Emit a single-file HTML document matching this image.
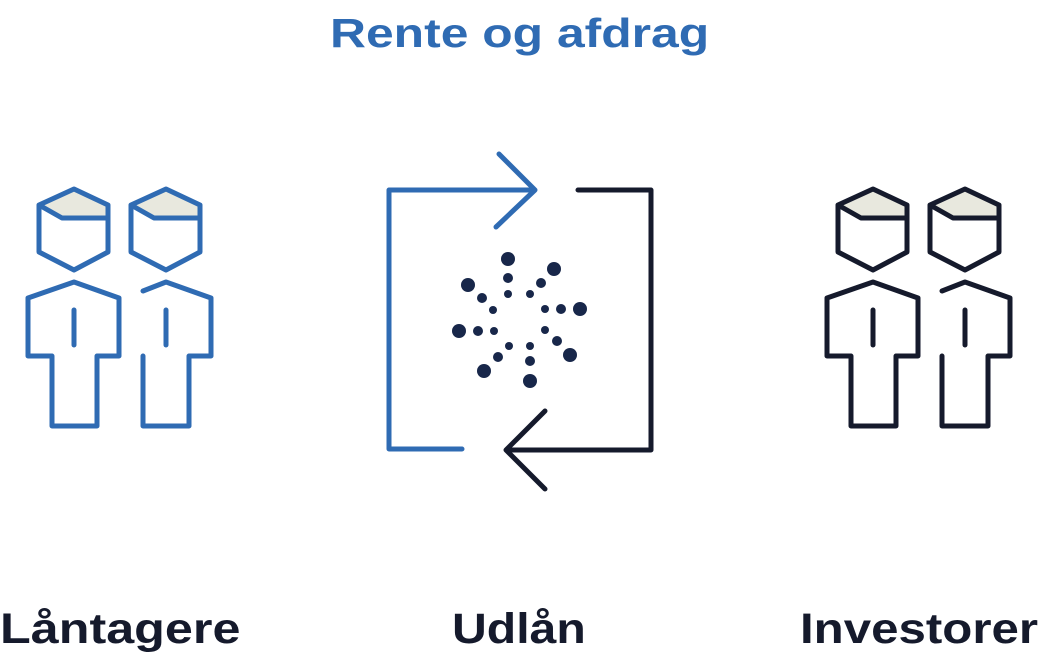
<!DOCTYPE html>
<html><head><meta charset="utf-8"><style>
html,body{margin:0;padding:0;background:#fff;}
body{width:1039px;height:662px;position:relative;overflow:hidden;font-family:"Liberation Sans",sans-serif;}
.t{position:absolute;font-weight:bold;white-space:nowrap;transform-origin:0 0;}
</style></head><body>
<svg width="1039" height="662" style="position:absolute;left:0;top:0">
<defs>
<g id="pp" fill="none" stroke-width="5" stroke-linejoin="round" stroke-linecap="round">
 <path d="M39,205 L74,189 L108,205 L108,218 L62,218 Z" fill="#e8e8de" stroke="none"/>
 <path d="M74,189 L108,205 L108,252 L74,270 L39,252 L39,205 Z M39,205 L62,218 L108,218"/>
 <path d="M74,282 L119,298 L119,356 L97,356 L97,426 L52,426 L52,356 L28,356 L28,298 Z"/>
 <path d="M74,310 L74,345"/>
 <g transform="translate(92,0)">
 <path d="M39,205 L74,189 L108,205 L108,218 L62,218 Z" fill="#e8e8de" stroke="none"/>
 <path d="M74,189 L108,205 L108,252 L74,270 L39,252 L39,205 Z M39,205 L62,218 L108,218"/>
 <path d="M51,356 L51,426 L97,426 L97,356 L119,356 L119,298 L74,282 L51,291"/>
 <path d="M74,310 L74,345"/>
 </g>
</g>
</defs>
<use href="#pp" stroke="#2f6bb3"/>
<use href="#pp" stroke="#151a2c" transform="translate(799,0)"/>
<g fill="none" stroke-width="5" stroke-linecap="round" stroke-linejoin="round">
 <path d="M462,449 L389,449 L389,190 L535,190 M499,154 L535,190 L496,227" stroke="#2f6bb3"/>
 <path d="M578,190 L651,190 L651,450 L506,450 M545,411 L506,450 L545,489" stroke="#151a2c"/>
</g>
<g fill="#18274a">
<circle cx="508" cy="259" r="7"/><circle cx="508" cy="278" r="5"/><circle cx="508" cy="294" r="4"/>
<circle cx="554" cy="269" r="7"/><circle cx="541" cy="283" r="5"/><circle cx="530" cy="294" r="4"/>
<circle cx="580" cy="309" r="7"/><circle cx="561" cy="309" r="5"/><circle cx="545" cy="309" r="4"/>
<circle cx="570" cy="355" r="7"/><circle cx="557" cy="341" r="5"/><circle cx="545" cy="330" r="4"/>
<circle cx="530" cy="381" r="7"/><circle cx="530" cy="361" r="5"/><circle cx="530" cy="346" r="4"/>
<circle cx="484" cy="371" r="7"/><circle cx="498" cy="357" r="5"/><circle cx="509" cy="346" r="4"/>
<circle cx="459" cy="331" r="7"/><circle cx="478" cy="331" r="5"/><circle cx="494" cy="331" r="4"/>
<circle cx="468" cy="285" r="7"/><circle cx="482" cy="298" r="5"/><circle cx="493" cy="310" r="4"/>
</g>
</svg>
<div class="t" style="left:330px;top:10px;font-size:41px;color:#2f6bb3;transform:scaleX(1.215);">Rente og afdrag</div>
<div class="t" style="left:0px;top:605px;font-size:43px;color:#151a2c;transform:scaleX(1.17);">Låntagere</div>
<div class="t" style="left:452px;top:605px;font-size:43px;color:#151a2c;transform:scaleX(1.12);">Udlån</div>
<div class="t" style="left:800px;top:605px;font-size:43px;color:#151a2c;transform:scaleX(1.145);">Investorer</div>
</body></html>
